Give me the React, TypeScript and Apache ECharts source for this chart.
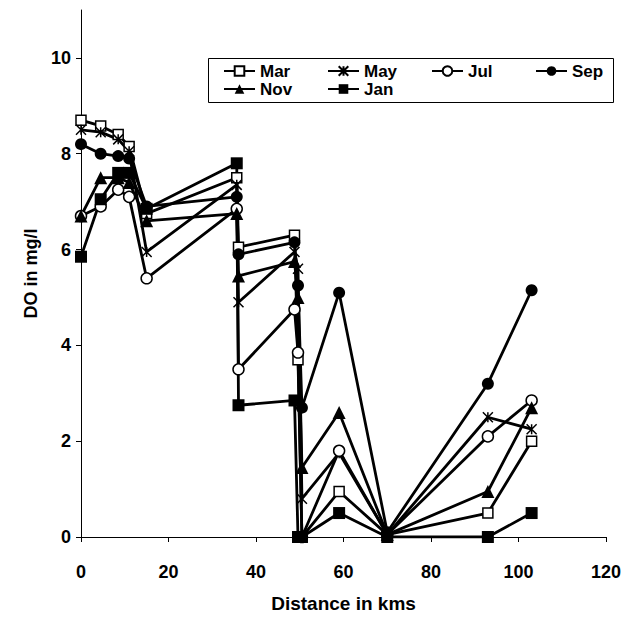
import React, { useEffect, useRef } from "react";
import * as echarts from "echarts";

const distances = [0, 4.5, 8.5, 11, 15, 35.6, 36, 48.8, 49.6, 50.5, 59, 70, 93, 103];
const marValues = [8.7, 8.58, 8.4, 8.15, 6.75, 7.5, 6.05, 6.3, 3.7, 0, 0.95, 0.05, 0.5, 2.0];
const mayValues = [8.5, 8.45, 8.3, 8.05, 5.95, 7.35, 4.9, 5.95, 5.6, 0.8, 1.75, 0.05, 2.5, 2.25];
const julValues = [6.7, 6.9, 7.25, 7.1, 5.4, 6.85, 3.5, 4.75, 3.85, 0, 1.8, 0.05, 2.1, 2.85];
const sepValues = [8.2, 8.0, 7.95, 7.9, 6.9, 7.1, 5.9, 6.15, 5.25, 2.7, 5.1, 0.1, 3.2, 5.15];
const novValues = [6.7, 7.5, 7.5, 7.4, 6.6, 6.75, 5.45, 5.75, 5.0, 1.45, 2.6, 0.05, 0.95, 2.7];
const janValues = [5.85, 7.05, 7.6, 7.6, 6.85, 7.8, 2.75, 2.85, 0, 0, 0.5, 0, 0, 0.5];

const seriesNames = ["Mar", "May", "Jul", "Sep", "Nov", "Jan"];
const yTicks = [0, 2, 4, 6, 8, 10];

const FONT = "Liberation Sans, Arial, sans-serif";
const ASTERISK = "path://M0,0L10,10M10,0L0,10M5,0L5,10";

export default function App() {
  const ref = useRef<HTMLDivElement>(null);
  useEffect(() => {
    if (!ref.current) return;
    const chart = echarts.init(ref.current, null, { renderer: "svg" });
    const pair = (vals: number[]) => distances.map((d, i) => [d, vals[i]]);
    const styles: Record<string, any> = {
      Mar: { symbol: "rect", symbolSize: 10, itemStyle: { color: "#fff", borderColor: "#000", borderWidth: 1.5 } },
      May: { symbol: ASTERISK, symbolSize: 10, itemStyle: { color: "#000", borderColor: "#000", borderWidth: 1.5 } },
      Jul: { symbol: "circle", symbolSize: 11, itemStyle: { color: "#fff", borderColor: "#000", borderWidth: 1.5 } },
      Sep: { symbol: "circle", symbolSize: 12, itemStyle: { color: "#000", borderColor: "#000", borderWidth: 0 } },
      Nov: { symbol: "triangle", symbolSize: 13, itemStyle: { color: "#000", borderColor: "#000", borderWidth: 0 } },
      Jan: { symbol: "rect", symbolSize: 12, itemStyle: { color: "#000", borderColor: "#000", borderWidth: 0 } },
    };
    const dataMap: Record<string, number[]> = {
      Mar: marValues, May: mayValues, Jul: julValues, Sep: sepValues, Nov: novValues, Jan: janValues,
    };
    const series = seriesNames.map((name) => ({
      name,
      type: "line",
      data: pair(dataMap[name]),
      showAllSymbol: true,
      lineStyle: { color: "#000", width: 2.8 },
      emphasis: { disabled: true },
      ...styles[name],
    }));
    chart.setOption({
      animation: false,
      backgroundColor: "#fff",
      grid: { left: 81, right: 19, top: 10, bottom: 71 },
      xAxis: {
        type: "value",
        min: 0,
        max: 120,
        interval: 20,
        name: "Distance in kms",
        nameLocation: "middle",
        nameGap: 57,
        nameTextStyle: { fontFamily: FONT, fontWeight: "bold", fontSize: 19, color: "#000" },
        axisLine: { show: true, onZero: false, lineStyle: { color: "#000", width: 1 } },
        axisTick: { show: true, inside: false, length: 5, lineStyle: { color: "#000" } },
        axisLabel: { fontFamily: FONT, fontWeight: "bold", fontSize: 18, color: "#000", margin: 26 },
        splitLine: { show: false },
      },
      yAxis: {
        type: "value",
        min: 0,
        max: 11,
        interval: 2,
        name: "DO in mg/l",
        nameLocation: "middle",
        nameGap: 37,
        nameRotate: 90,
        nameTextStyle: { fontFamily: FONT, fontWeight: "bold", fontSize: 18, color: "#000" },
        axisLine: { show: true, onZero: false, lineStyle: { color: "#000", width: 1 } },
        axisTick: { show: true, length: 5, lineStyle: { color: "#000" }, customValues: yTicks },
        axisLabel: { fontFamily: FONT, fontWeight: "bold", fontSize: 18, color: "#000", margin: 10, customValues: yTicks },
        splitLine: { show: false },
      },
      legend: {
        left: 223,
        top: 62,
        width: 420,
        padding: 0,
        itemWidth: 31,
        itemHeight: 12,
        itemGap: 0,
        data: seriesNames,
        textStyle: { fontFamily: FONT, fontWeight: "bold", fontSize: 17, color: "#000", width: 67, lineHeight: 18 },
      },
      graphic: [
        {
          type: "rect",
          shape: { x: 208.5, y: 58.5, width: 405, height: 44 },
          style: { fill: "none", stroke: "#000", lineWidth: 1 },
        },
      ],
      series,
    });
    return () => chart.dispose();
  }, []);
  return (
    <div
      ref={ref}
      style={{ position: "fixed", left: 0, top: 0, width: 625, height: 618, background: "#fff" }}
    />
  );
}
